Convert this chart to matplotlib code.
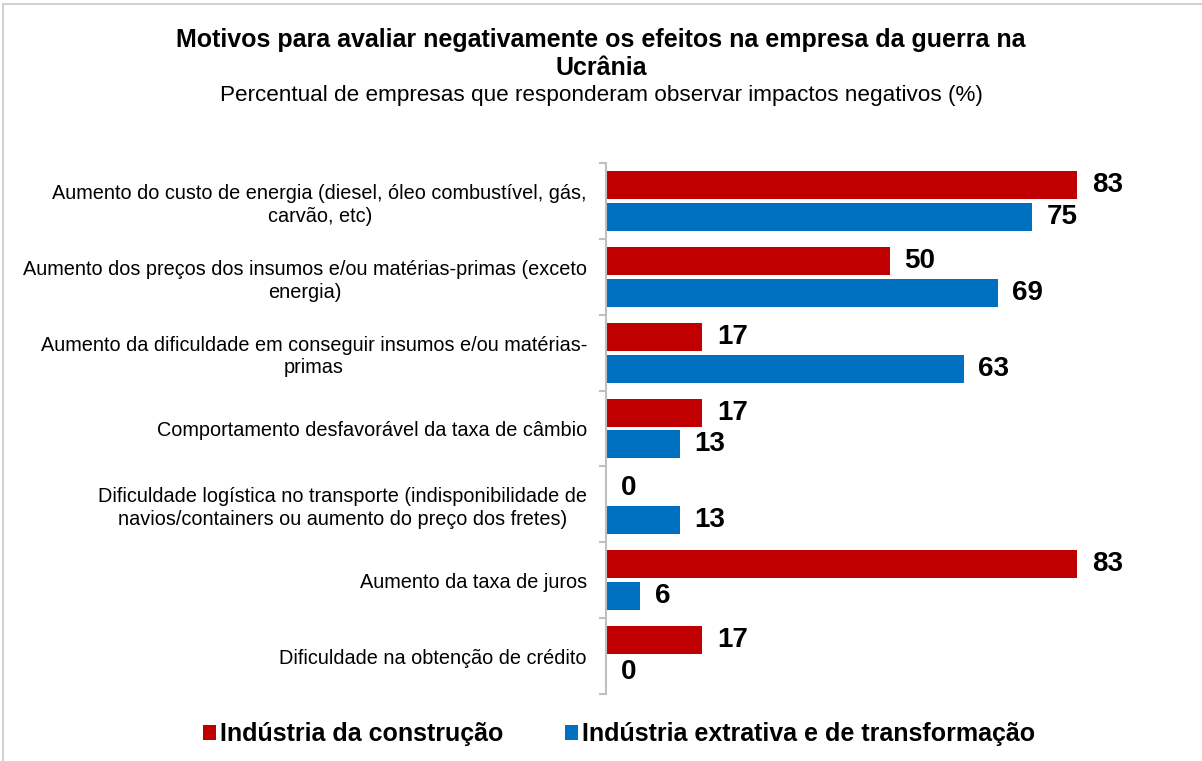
import matplotlib.pyplot as plt
from matplotlib.patches import Rectangle
import numpy as np

plt.rcParams['font.family'] = ['Liberation Sans', 'DejaVu Sans']

categorias = [
    "Aumento do custo de energia (diesel, óleo combustível, gás,\ncarvão, etc)",
    "Aumento dos preços dos insumos e/ou matérias-primas (exceto\nenergia)",
    "Aumento da dificuldade em conseguir insumos e/ou matérias-\nprimas",
    "Comportamento desfavorável da taxa de câmbio",
    "Dificuldade logística no transporte (indisponibilidade de\nnavios/containers ou aumento do preço dos fretes)",
    "Aumento da taxa de juros",
    "Dificuldade na obtenção de crédito",
]
construcao = [83, 50, 17, 17, 0, 83, 17]
extrativa = [75, 69, 63, 13, 13, 6, 0]
series = ["Indústria da construção", "Indústria extrativa e de transformação"]
cores = ["#C00000", "#0070C0"]

fig = plt.figure(figsize=(12.02, 7.61), dpi=100)
# moldura cinza do grafico
fig.patches.append(Rectangle((3 / 1202, -0.1), 1.2, 1.1 - 4 / 761, transform=fig.transFigure,
                             fill=False, edgecolor="#C8C8C8", linewidth=1.2))

ax = fig.add_axes([606 / 1202, 1 - 694 / 761, 95 * 5.675 / 1202, (694 - 163) / 761])

y = np.arange(len(categorias))
h = 0.37
off = 0.21
ax.barh(y - off, construcao, height=h, color=cores[0], label=series[0])
ax.barh(y + off, extrativa, height=h, color=cores[1], label=series[1])

for vals, d in ((construcao, -off), (extrativa, off)):
    for yi, v in zip(y, vals):
        ax.text(v + 2.6, yi + d, str(v), va="center", ha="left",
                fontsize=20, fontweight="bold")

ax.set_xlim(0, 95)
ax.set_ylim(len(categorias) - 0.5, -0.5)
ax.set_yticks(y)
ax.set_yticklabels(categorias, fontsize=14.3, multialignment="center", linespacing=1.25)
ax.set_yticks(np.arange(len(categorias) + 1) - 0.5, minor=True)
ax.tick_params(axis="y", which="major", length=0, pad=13.7)
ax.tick_params(axis="y", which="minor", length=5, color="#BFBFBF", width=1.5)
ax.set_xticks([])
for s in ("top", "right", "bottom"):
    ax.spines[s].set_visible(False)
ax.spines["left"].set_color("#BFBFBF")
ax.spines["left"].set_linewidth(1.5)

fig.text(0.5, 1 - 40 / 761, "Motivos para avaliar negativamente os efeitos na empresa da guerra na",
         ha="center", va="center", fontsize=18, fontweight="bold")
fig.text(0.5, 1 - 68 / 761, "Ucrânia", ha="center", va="center", fontsize=18, fontweight="bold")
fig.text(0.5, 1 - 96 / 761, "Percentual de empresas que responderam observar impactos negativos (%)",
         ha="center", va="center", fontsize=16.2)

fig.legend(loc="center", bbox_to_anchor=(619 / 1202, 1 - 734 / 761), ncol=2, frameon=False,
           prop={"size": 18, "weight": "bold"}, handlelength=0.52, handleheight=0.56,
           handletextpad=0.16, columnspacing=2.5)

fig.savefig("out.png", dpi=100)
